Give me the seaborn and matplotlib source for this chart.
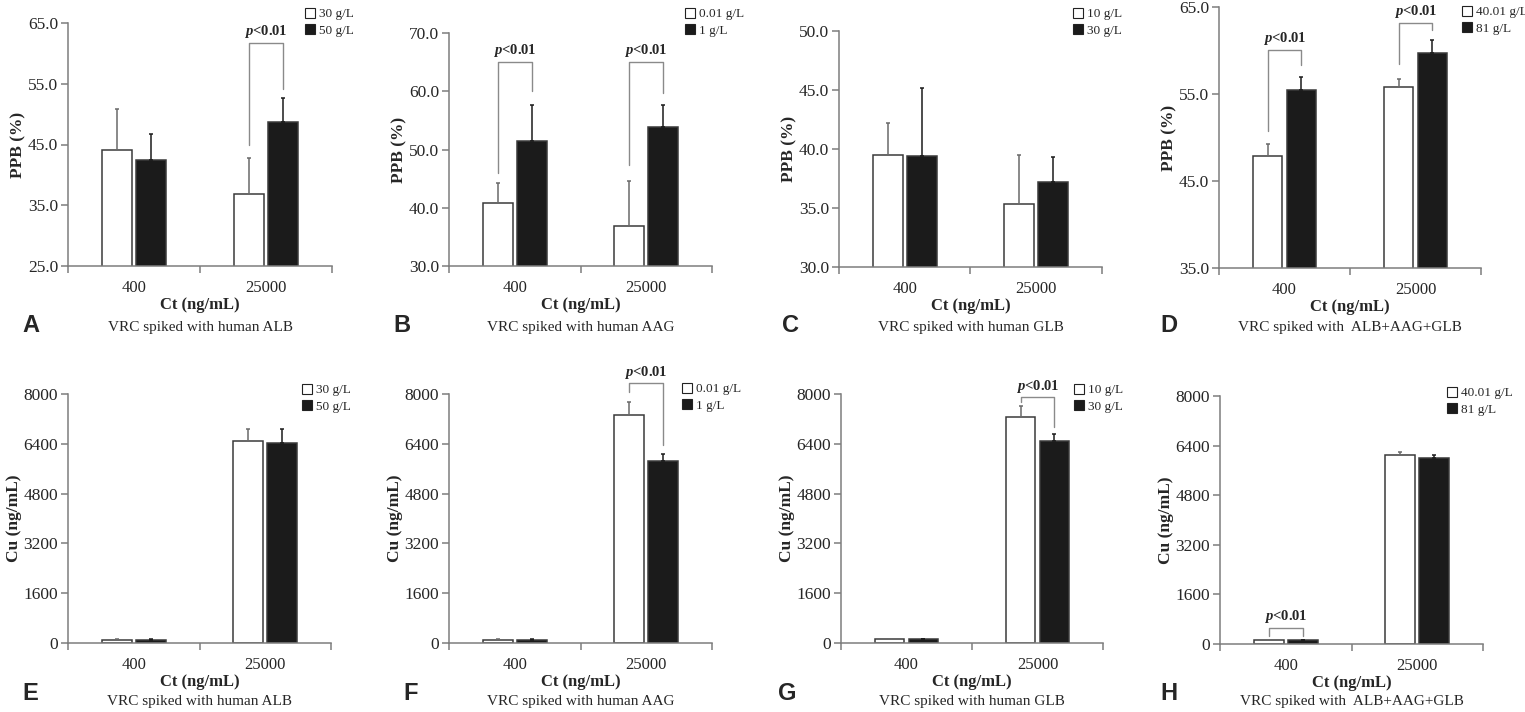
import matplotlib
matplotlib.use("Agg")
import matplotlib.pyplot as plt
import pandas as pd
import seaborn as sns

# categories
ct_levels = ["400", "25000"]

alb_labels = ["30 g/L", "50 g/L"]
aag_labels = ["0.01 g/L", "1 g/L"]
glb_labels = ["10 g/L", "30 g/L"]
mix_labels = ["40.01 g/L", "81 g/L"]

# top row: PPB (%) means and SDs (low conc., high conc.)
ppb_alb_lo, ppb_alb_lo_sd = [44.1, 36.9], [6.7, 5.9]
ppb_alb_hi, ppb_alb_hi_sd = [42.5, 48.7], [4.3, 3.9]
ppb_aag_lo, ppb_aag_lo_sd = [40.9, 36.9], [3.3, 7.7]
ppb_aag_hi, ppb_aag_hi_sd = [51.4, 53.9], [6.3, 3.7]
ppb_glb_lo, ppb_glb_lo_sd = [39.5, 35.3], [2.7, 4.2]
ppb_glb_hi, ppb_glb_hi_sd = [39.4, 37.2], [5.8, 2.1]
ppb_mix_lo, ppb_mix_lo_sd = [47.9, 55.75], [1.4, 0.95]
ppb_mix_hi, ppb_mix_hi_sd = [55.45, 59.7], [1.55, 1.55]

# bottom row: Cu (ng/mL)
cu_alb_lo, cu_alb_lo_sd = [105, 6475], [10, 400]
cu_alb_hi, cu_alb_hi_sd = [110, 6430], [10, 440]
cu_aag_lo, cu_aag_lo_sd = [110, 7315], [10, 440]
cu_aag_hi, cu_aag_hi_sd = [105, 5835], [10, 225]
cu_glb_lo, cu_glb_lo_sd = [115, 7250], [10, 365]
cu_glb_hi, cu_glb_hi_sd = [115, 6490], [10, 225]
cu_mix_lo, cu_mix_lo_sd = [120, 6100], [15, 85]
cu_mix_hi, cu_mix_hi_sd = [120, 6015], [10, 85]

# significance brackets: (category index, bracket top, left leg end, right leg end)
sig_a = [(1, 61.7, 45.0, 54.2)]
sig_b = [(0, 65.0, 45.9, 60.1), (1, 65.0, 47.4, 59.7)]
sig_d = [(0, 60.1, 50.8, 58.3), (1, 63.2, 58.5, 62.3)]
sig_f = [(1, 8340, 8075, 6360)]
sig_g = [(1, 7890, 7750, 6950)]
sig_h = [(0, 515, 250, 250)]

ppb_ticks = {"A": [25, 35, 45, 55, 65], "B": [30, 40, 50, 60, 70],
             "C": [30, 35, 40, 45, 50], "D": [35, 45, 55, 65]}
cu_ticks = [0, 1600, 3200, 4800, 6400, 8000]

sub_alb = "VRC spiked with human ALB"
sub_aag = "VRC spiked with human AAG"
sub_glb = "VRC spiked with human GLB"
sub_mix = "VRC spiked with  ALB+AAG+GLB"

W, H = 1525, 712
AXIS_GREY = "#7d7d7d"

sns.set_theme(style="ticks")
plt.rcParams["font.family"] = ["Liberation Serif", "DejaVu Serif"]
plt.rcParams["mathtext.fontset"] = "custom"
plt.rcParams["mathtext.it"] = "Liberation Serif:italic:bold"

fig = plt.figure(figsize=(W / 100, H / 100), dpi=100)


def draw_panel(box, labels, lo, lo_sd, hi, hi_sd, ticks, fmt, ylabel,
               brackets, legend_px, letter, letter_px, subtitle, sub_y):
    l, t, r, b = box
    ax = fig.add_axes([l / W, 1 - b / H, (r - l) / W, (b - t) / H])
    df = pd.DataFrame({"Ct": ct_levels * 2,
                       "conc": [labels[0]] * 2 + [labels[1]] * 2,
                       "val": lo + hi})
    sns.barplot(data=df, x="Ct", y="val", hue="conc", order=ct_levels,
                hue_order=labels, palette=["white", "#1b1b1b"],
                edgecolor="#3a3a3a", linewidth=1.1, width=0.515, gap=0.12,
                errorbar=None, ax=ax)

    # one-sided error bars
    for cont, sds, col in zip(ax.containers, [lo_sd, hi_sd], ["#6a6a6a", "#1b1b1b"]):
        for bar, sd in zip(cont, sds):
            cx = bar.get_x() + bar.get_width() / 2
            ax.errorbar(cx, bar.get_height(), yerr=[[0], [sd]], fmt="none",
                        ecolor=col, elinewidth=1.1, capsize=1.6, capthick=1.1)

    for ci, top, lb, rb in brackets:
        b0, b1 = ax.containers[0][ci], ax.containers[1][ci]
        x0 = b0.get_x() + b0.get_width() / 2
        x1 = b1.get_x() + b1.get_width() / 2
        ax.plot([x0, x0, x1, x1], [lb, top, top, rb], color="#8a8a8a",
                lw=1.0, clip_on=False)
        ax.annotate(r"$\it{p}$<0.01", xy=((x0 + x1) / 2, top), xytext=(0, 2),
                    textcoords="offset points", ha="center", va="bottom",
                    fontsize=10.5, fontweight="bold", annotation_clip=False)

    ax.set_xlim(-0.5, 1.5)
    ax.set_ylim(ticks[0], ticks[-1])
    ax.set_yticks(ticks)
    ax.set_yticklabels([fmt.format(v) for v in ticks])
    ax.set_xticks([-0.5, 0.5, 1.5], minor=True)
    ax.tick_params(axis="x", which="major", length=0, pad=10, labelsize=12)
    ax.tick_params(axis="x", which="minor", length=5, width=1.1,
                   color=AXIS_GREY, direction="out")
    ax.tick_params(axis="y", length=5, width=1.1, color=AXIS_GREY,
                   labelsize=12.5, pad=2)
    sns.despine(ax=ax)
    for side in ["left", "bottom"]:
        ax.spines[side].set_color(AXIS_GREY)
        ax.spines[side].set_linewidth(1.1)
    ax.set_xlabel("Ct (ng/mL)", fontsize=12, fontweight="bold", labelpad=1)
    ax.set_ylabel(ylabel, fontsize=12.5, fontweight="bold", labelpad=1)

    handles, names = ax.get_legend_handles_labels()
    leg = ax.legend(handles, names, loc="upper left",
                    bbox_to_anchor=(legend_px[0] / W, 1 - legend_px[1] / H),
                    bbox_transform=fig.transFigure, frameon=False,
                    fontsize=9.5, handlelength=0.75, handleheight=0.75,
                    handletextpad=0.3, labelspacing=0.3, borderpad=0,
                    borderaxespad=0)
    for hnd in leg.legend_handles:
        hnd.set_edgecolor("#222222")
        hnd.set_linewidth(0.8)

    fig.text(letter_px[0] / W, 1 - letter_px[1] / H, letter, fontsize=17,
             fontweight="bold", family="Liberation Sans", ha="left", va="center")
    fig.text((l + r) / 2 / W, 1 - sub_y / H, subtitle, fontsize=11,
             ha="center", va="center")
    return ax


draw_panel((68, 23, 332, 266), alb_labels, ppb_alb_lo, ppb_alb_lo_sd,
           ppb_alb_hi, ppb_alb_hi_sd, ppb_ticks["A"], "{:.1f}", "PPB (%)",
           sig_a, (305, 8), "A", (22, 325), sub_alb, 327)
draw_panel((449, 33, 712, 266), aag_labels, ppb_aag_lo, ppb_aag_lo_sd,
           ppb_aag_hi, ppb_aag_hi_sd, ppb_ticks["B"], "{:.1f}", "PPB (%)",
           sig_b, (685, 8), "B", (393, 325), sub_aag, 327)
draw_panel((839, 31, 1102, 267), glb_labels, ppb_glb_lo, ppb_glb_lo_sd,
           ppb_glb_hi, ppb_glb_hi_sd, ppb_ticks["C"], "{:.1f}", "PPB (%)",
           [], (1073, 8), "C", (782, 325), sub_glb, 327)
draw_panel((1219, 7, 1481, 268), mix_labels, ppb_mix_lo, ppb_mix_lo_sd,
           ppb_mix_hi, ppb_mix_hi_sd, ppb_ticks["D"], "{:.1f}", "PPB (%)",
           sig_d, (1462, 6), "D", (1160, 325), sub_mix, 327)

draw_panel((68, 394, 331, 643), alb_labels, cu_alb_lo, cu_alb_lo_sd,
           cu_alb_hi, cu_alb_hi_sd, cu_ticks, "{:.0f}", "Cu (ng/mL)",
           [], (302, 384), "E", (22, 693), sub_alb, 702)
draw_panel((449, 394, 712, 643), aag_labels, cu_aag_lo, cu_aag_lo_sd,
           cu_aag_hi, cu_aag_hi_sd, cu_ticks, "{:.0f}", "Cu (ng/mL)",
           sig_f, (682, 383), "F", (403, 693), sub_aag, 702)
draw_panel((841, 394, 1103, 643), glb_labels, cu_glb_lo, cu_glb_lo_sd,
           cu_glb_hi, cu_glb_hi_sd, cu_ticks, "{:.0f}", "Cu (ng/mL)",
           sig_g, (1074, 384), "G", (778, 693), sub_glb, 702)
draw_panel((1220, 396, 1483, 644), mix_labels, cu_mix_lo, cu_mix_lo_sd,
           cu_mix_hi, cu_mix_hi_sd, cu_ticks, "{:.0f}", "Cu (ng/mL)",
           sig_h, (1447, 387), "H", (1160, 693), sub_mix, 702)

fig.savefig("out.png", dpi=100)
